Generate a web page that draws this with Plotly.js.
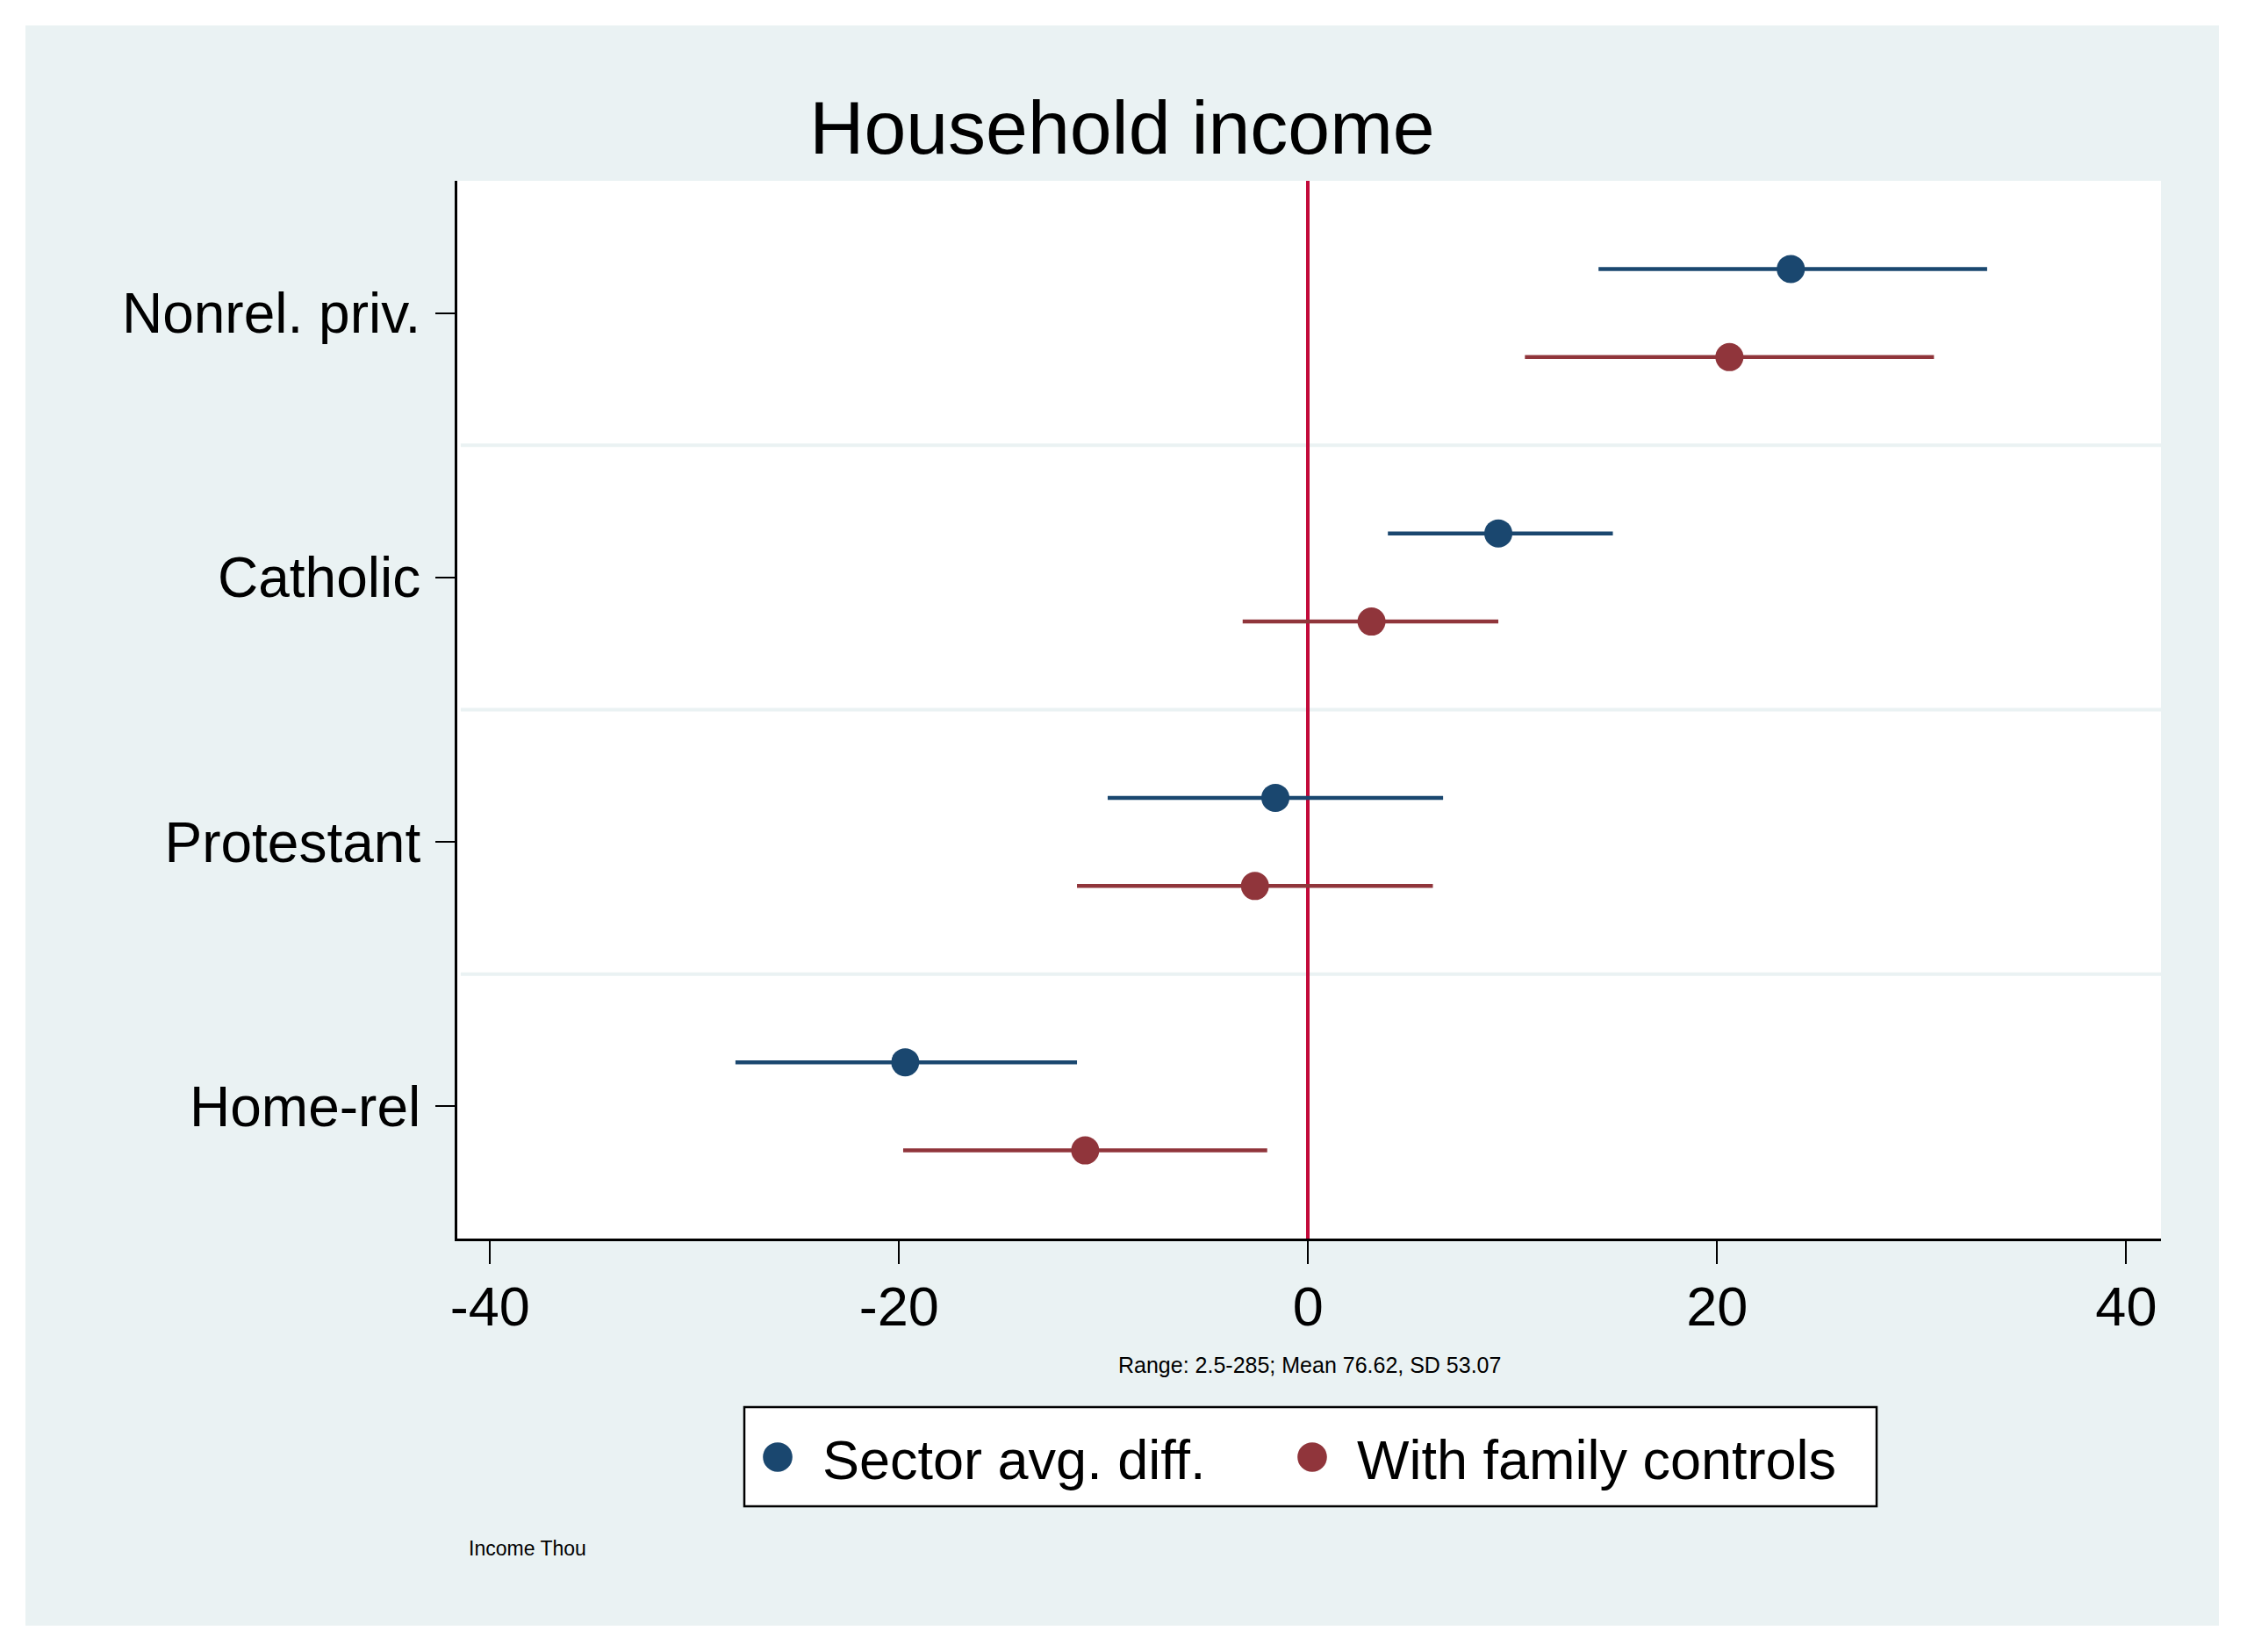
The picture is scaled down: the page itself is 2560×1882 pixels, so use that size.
<!DOCTYPE html>
<html>
<head>
<meta charset="utf-8">
<script src="https://cdn.plot.ly/plotly-3.0.1.min.js"></script>
<style>
  html, body { margin: 0; padding: 0; background: #ffffff; }
  #chart { position: absolute; left: 29px; top: 29px; width: 2499px; height: 1823px; }
</style>
</head>
<body>
<div id="chart"></div>
<script>
// ---- data ----
const categories = ['Nonrel. priv.', 'Catholic', 'Protestant', 'Home-rel'];
const sectorEst = [23.6, 9.3, -1.6, -19.7];
const sectorLo  = [14.2, 3.9, -9.8, -28.0];
const sectorHi  = [33.2, 14.9, 6.6, -11.3];
const familyEst = [20.6, 3.1, -2.6, -10.9];
const familyLo  = [10.6, -3.2, -11.3, -19.8];
const familyHi  = [30.6, 9.3, 6.1, -2.0];
const xTicks = [-40, -20, 0, 20, 40];
const separators = [1.5, 2.5, 3.5];
const seriesNames = ['Sector avg. diff.', 'With family controls'];
const noteText = 'Range: 2.5-285; Mean 76.62, SD 53.07';
const captionText = 'Income Thou';
const titleText = 'Household income';

// ---- styling ----
const BLUE = '#1A476F';
const RED = '#90353B';
const VLINE = '#C20A3A';
const BG = '#EAF2F3';
const FONT = 'Liberation Sans, Arial, sans-serif';

// plot-area geometry (px inside the chart div)
const PL = 492, PT = 177, PW = 1941, PH = 1205;
const px2x = px => (px - PL) / PW;
const px2y = py => -(py - (PT + PH)) / PH;

const basePos = categories.map((c, i) => categories.length - i);
const offset = 1 / 6;

function makeTrace(name, est, lo, hi, color, dy) {
  return {
    type: 'scatter',
    mode: 'markers',
    name: name,
    x: est,
    y: basePos.map(p => p + dy),
    marker: { color: color, size: 32, line: { width: 0 } },
    error_x: {
      type: 'data',
      symmetric: false,
      array: hi.map((h, i) => h - est[i]),
      arrayminus: lo.map((l, i) => est[i] - l),
      color: color,
      thickness: 4.5,
      width: 0
    },
    hoverinfo: 'x+y'
  };
}

const traces = [
  makeTrace(seriesNames[0], sectorEst, sectorLo, sectorHi, BLUE, offset),
  makeTrace(seriesNames[1], familyEst, familyLo, familyHi, RED, -offset)
];

const shapes = separators.map(v => ({
  type: 'line', xref: 'paper', x0: 0.002, x1: 1, yref: 'y', y0: v, y1: v,
  line: { color: BG, width: 4 }, layer: 'below'
}));
// legend frame
shapes.push({
  type: 'rect', xref: 'paper', yref: 'paper',
  x0: px2x(819), x1: px2x(2109), y0: px2y(1574), y1: px2y(1687),
  fillcolor: '#ffffff', line: { color: '#000000', width: 2.5 }, layer: 'above'
});

const layout = {
  width: 2499,
  height: 1823,
  paper_bgcolor: BG,
  plot_bgcolor: '#ffffff',
  margin: { l: PL, r: 2499 - PL - PW, t: PT, b: 1823 - PT - PH, pad: 0 },
  font: { family: FONT, color: '#000000' },
  title: {
    text: titleText,
    font: { family: FONT, size: 86, color: '#000000' },
    x: 0.5, xref: 'container', xanchor: 'center',
    y: 1 - 116 / 1823, yref: 'container', yanchor: 'middle'
  },
  xaxis: {
    range: [-41.6, 41.7],
    tickvals: xTicks,
    ticktext: xTicks.map(String),
    ticks: 'outside', ticklen: 26, tickwidth: 2, tickcolor: '#000000',
    tickfont: { family: FONT, size: 63, color: '#000000' },
    ticklabelstandoff: -6,
    showline: true, linecolor: '#000000', linewidth: 3,
    showgrid: false,
    zeroline: true, zerolinecolor: VLINE, zerolinewidth: 4,
    fixedrange: true
  },
  yaxis: {
    range: [0.5, 4.5],
    tickvals: basePos,
    ticktext: categories,
    ticks: 'outside', ticklen: 22, tickwidth: 2, tickcolor: '#000000',
    tickfont: { family: FONT, size: 64, color: '#000000' },
    ticklabelstandoff: 4,
    showline: true, linecolor: '#000000', linewidth: 3,
    showgrid: false, zeroline: false,
    fixedrange: true
  },
  showlegend: true,
  legend: {
    orientation: 'h',
    x: px2x(806), xanchor: 'left', xref: 'paper',
    y: px2y(1631), yanchor: 'middle', yref: 'paper',
    bgcolor: 'rgba(0,0,0,0)', borderwidth: 0,
    font: { family: FONT, size: 63, color: '#000000' },
    itemwidth: 92,
    entrywidth: 502, entrywidthmode: 'pixels',
    itemclick: false, itemdoubleclick: false
  },
  shapes: shapes,
  annotations: [
    {
      text: noteText, showarrow: false,
      xref: 'paper', x: 0.5, xanchor: 'center',
      yref: 'paper', y: px2y(1526), yanchor: 'middle',
      font: { family: FONT, size: 25, color: '#000000' }
    },
    {
      text: captionText, showarrow: false,
      xref: 'paper', x: px2x(503), xanchor: 'left',
      yref: 'paper', y: px2y(1735), yanchor: 'middle',
      font: { family: FONT, size: 23, color: '#000000' }
    }
  ]
};

Plotly.newPlot('chart', traces, layout, { displayModeBar: false, staticPlot: true }).then(gd => {
  // enlarge legend symbols to match the plotted marker size
  gd.querySelectorAll('.legend .legendpoints path.scatterpts').forEach(p => {
    const t = p.getAttribute('transform') || '';
    p.setAttribute('transform', t + ' scale(2.1)');
  });
  // let the last legend label run past the fixed entry width
  gd.querySelectorAll('.legend .scrollbox, .legend [clip-path]').forEach(el => {
    el.removeAttribute('clip-path');
  });
});
</script>
</body>
</html>
